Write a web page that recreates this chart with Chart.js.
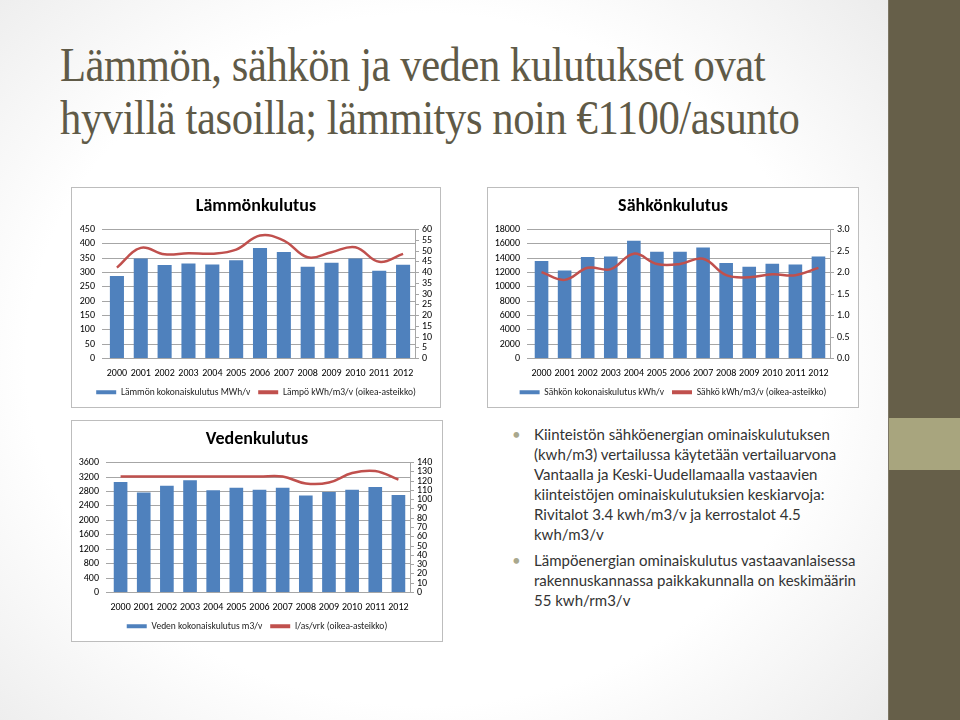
<!DOCTYPE html>
<html>
<head>
<meta charset="utf-8">
<script src="https://cdn.jsdelivr.net/npm/chart.js@4.4.0/dist/chart.umd.min.js"></script>
<style>
  body {
    margin: 0;
    width: 960px;
    height: 720px;
    overflow: hidden;
    position: relative;
    font-family: Carlito, 'Liberation Sans', sans-serif;
  }
  .slide {
    position: absolute; left: 0; top: 0; width: 888px; height: 720px;
    background: radial-gradient(ellipse 75% 80% at 48% 50%, #ffffff 60%, #e8e8e8 100%);
  }
  .band { position: absolute; left: 888px; top: 0; width: 72px; height: 720px; background: #665f49; border-left: 1px solid #7c7664; }
  .band-light { position: absolute; left: 889px; top: 418px; width: 71px; height: 52px; background: #a8a57e; }
  .title {
    position: absolute; left: 60px; top: 38px; margin: 0;
    font-family: 'Liberation Serif', serif; font-weight: normal;
    font-size: 49px; line-height: 53px; letter-spacing: -0.5px;
    color: #5f5a47; white-space: nowrap;
    transform: scaleX(0.87); transform-origin: 0 0;
  }
  .box { position: absolute; background: #fff; border: 1px solid #bdbdbd; }
  .box canvas { display: block; }
  .notes {
    position: absolute; left: 512px; top: 424px; margin: 0; padding: 0;
    list-style: none; font-family: Lato, sans-serif; font-size: 15px; line-height: 20px; color: #333;
  }
  .notes li { position: relative; padding-left: 22px; margin-bottom: 6px; white-space: nowrap; }
  .notes li::before { content: '•'; position: absolute; left: 0; top: 0; color: #a9a88d; }
</style>
</head>
<body>
<div class="slide"></div>
<div class="band"></div>
<div class="band-light"></div>

<h1 class="title">Lämmön, sähkön ja veden kulutukset ovat<br>hyvillä tasoilla; lämmitys noin €1100/asunto</h1>

<div class="box" style="left:71px; top:187px;"><canvas id="heatChart" width="368" height="219"></canvas></div>
<div class="box" style="left:487px; top:187px;"><canvas id="powerChart" width="370" height="219"></canvas></div>
<div class="box" style="left:71px; top:420px;"><canvas id="waterChart" width="370" height="220"></canvas></div>

<ul class="notes">
  <li>Kiinteistön sähköenergian ominaiskulutuksen<br>(kwh/m3) vertailussa käytetään vertailuarvona<br>Vantaalla ja Keski-Uudellamaalla vastaavien<br>kiinteistöjen ominaiskulutuksien keskiarvoja:<br>Rivitalot 3.4 kwh/m3/v ja kerrostalot 4.5<br>kwh/m3/v</li>
  <li>Lämpöenergian ominaiskulutus vastaavanlaisessa<br>rakennuskannassa paikkakunnalla on keskimäärin<br>55 kwh/rm3/v</li>
</ul>

<script>
const years = ['2000', '2001', '2002', '2003', '2004', '2005', '2006', '2007', '2008', '2009', '2010', '2011', '2012'];

// Lämmönkulutus
const heatTotal = [288, 349, 326, 332, 328, 343, 386, 372, 320, 334, 349, 306, 327];
const heatPerM3 = [42.3, 51.5, 48.5, 49, 48.8, 50.7, 57.3, 54.9, 47.1, 49.5, 51.8, 45, 48.7];

// Sähkönkulutus
const powerTotal = [13600, 12300, 14160, 14250, 16430, 14900, 14900, 15500, 13330, 12820, 13230, 13140, 14250];
const powerPerM3 = [2.01, 1.83, 2.11, 2.08, 2.44, 2.2, 2.2, 2.32, 1.94, 1.89, 1.96, 1.94, 2.11];

// Vedenkulutus
const waterTotal = [3062, 2768, 2961, 3108, 2832, 2906, 2851, 2906, 2685, 2786, 2851, 2924, 2703];
const waterPerDay = [125, 125, 125, 125, 125, 125, 125, 125, 117.5, 118.5, 128.7, 130.9, 121.6];

const barBlue = '#4f81bd';
const lineRed = '#c0504d';
const gridGray = '#a6a6a6';
const fontFamily = "Carlito, 'Liberation Sans', sans-serif";
const tickFont = { family: fontFamily, size: 10 };

function comboChart(id, cfg) {
  new Chart(document.getElementById(id), {
    data: {
      labels: years,
      datasets: [
        {
          type: 'bar',
          label: cfg.barLabel,
          data: cfg.barData,
          yAxisID: 'y',
          backgroundColor: barBlue,
          borderWidth: 0,
          barPercentage: 0.59,
          categoryPercentage: 1,
          order: 2
        },
        {
          type: 'line',
          label: cfg.lineLabel,
          data: cfg.lineData,
          yAxisID: 'y1',
          borderColor: lineRed,
          backgroundColor: lineRed,
          borderWidth: 2.5,
          pointRadius: 0,
          tension: 0.4,
          order: 1
        }
      ]
    },
    options: {
      responsive: false,
      animation: false,
      plugins: {
        title: {
          display: true,
          text: cfg.title,
          color: '#000',
          font: { family: fontFamily, size: 18, weight: 'bold' },
          padding: { top: 8, bottom: 12 }
        },
        legend: {
          position: 'bottom',
          labels: {
            color: '#222',
            font: { family: fontFamily, size: 9.5 },
            boxWidth: 20,
            boxHeight: 4,
            padding: 8,
            generateLabels(chart) {
              const items = Chart.defaults.plugins.legend.labels.generateLabels(chart);
              items.sort((a, b) => a.datasetIndex - b.datasetIndex);
              items.forEach(it => { it.lineWidth = 0; });
              return items;
            }
          }
        },
        tooltip: { enabled: false }
      },
      scales: {
        x: {
          grid: { display: false, drawTicks: false },
          border: { display: true, color: gridGray },
          ticks: { autoSkip: false, maxRotation: 0, color: '#000', font: tickFont, padding: 9 },
          afterFit(scale) { scale.height = 21; }
        },
        y: {
          position: 'left',
          min: 0,
          max: cfg.leftMax,
          grid: { color: gridGray, tickLength: 3 },
          border: { display: false },
          ticks: {
            stepSize: cfg.leftStep, autoSkip: false, color: '#000', font: tickFont, padding: 7,
            callback: v => String(v)
          },
          afterFit(scale) { scale.width = cfg.leftW; }
        },
        y1: {
          position: 'right',
          min: 0,
          max: cfg.rightMax,
          grid: { drawOnChartArea: false, color: gridGray, tickLength: 4 },
          border: { display: true, color: gridGray },
          ticks: {
            stepSize: cfg.rightStep,
            autoSkip: false,
            color: '#000',
            font: tickFont,
            padding: 3,
            callback: v => cfg.rightDecimals ? v.toFixed(cfg.rightDecimals) : String(v)
          },
          afterFit(scale) { scale.width = cfg.rightW; }
        }
      }
    }
  });
}

comboChart('heatChart', {
  title: 'Lämmönkulutus',
  barLabel: 'Lämmön kokonaiskulutus MWh/v',
  lineLabel: 'Lämpö kWh/m3/v (oikea-asteikko)',
  barData: heatTotal,
  lineData: heatPerM3,
  leftMax: 450, leftStep: 50,
  rightMax: 60, rightStep: 5,
  leftW: 33, rightW: 25
});

comboChart('powerChart', {
  title: 'Sähkönkulutus',
  barLabel: 'Sähkön kokonaiskulutus kWh/v',
  lineLabel: 'Sähkö kWh/m3/v (oikea-asteikko)',
  barData: powerTotal,
  lineData: powerPerM3,
  leftMax: 18000, leftStep: 2000,
  rightMax: 3, rightStep: 0.5, rightDecimals: 1,
  leftW: 42, rightW: 28
});

comboChart('waterChart', {
  title: 'Vedenkulutus',
  barLabel: 'Veden kokonaiskulutus m3/v',
  lineLabel: 'l/as/vrk (oikea-asteikko)',
  barData: waterTotal,
  lineData: waterPerDay,
  leftMax: 3600, leftStep: 400,
  rightMax: 140, rightStep: 10,
  leftW: 37, rightW: 32
});
</script>
</body>
</html>
